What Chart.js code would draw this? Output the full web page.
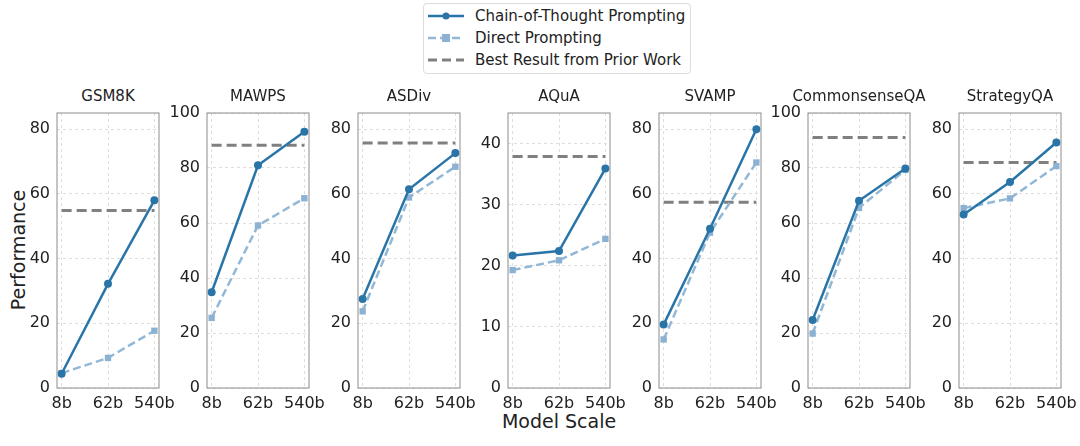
<!DOCTYPE html>
<html>
<head>
<meta charset="utf-8">
<script src="https://cdn.jsdelivr.net/npm/chart.js@4.4.1/dist/chart.umd.min.js"></script>
<style>
  body { margin: 0; background: #fff; font-family: "DejaVu Sans", sans-serif; color: #222; }
  #wrap { position: relative; width: 1080px; height: 446px; overflow: hidden; }
  .panel { position: absolute; }
  .title { position: absolute; width: 160px; text-align: center; font-size: 15px; line-height: 18px; }
  #legend { position: absolute; left: 423px; top: 3px; width: 266px; height: 69px;
    border: 1px solid #dcdcdc; border-radius: 4px; font-size: 15px; }
  .row { position: absolute; left: 4px; height: 20px; display: flex; align-items: center; }
  .row span { margin-left: 11px; }
  #ylab { position: absolute; left: 18px; top: 250px; font-size: 19px;
    transform: translate(-50%, -50%) rotate(-90deg); white-space: nowrap; }
  #xlab { position: absolute; left: 559px; top: 421px; font-size: 19px;
    transform: translate(-50%, -50%); white-space: nowrap; }
</style>
</head>
<body>
<div id="wrap">
  <div id="legend">
    <div class="row" style="top:2px">
      <svg width="36" height="10"><line x1="0" y1="5" x2="36" y2="5" stroke="#2a75a8" stroke-width="2.5"/><circle cx="18" cy="5" r="3.5" fill="#2a75a8"/></svg>
      <span>Chain-of-Thought Prompting</span>
    </div>
    <div class="row" style="top:24px">
      <svg width="36" height="10"><line x1="0" y1="5" x2="36" y2="5" stroke="#93b8d6" stroke-width="2.5" stroke-dasharray="8,4"/><rect x="14" y="1" width="8" height="8" fill="#8db1d2"/></svg>
      <span>Direct Prompting</span>
    </div>
    <div class="row" style="top:46px">
      <svg width="36" height="10"><line x1="0" y1="5" x2="36" y2="5" stroke="#808080" stroke-width="3" stroke-dasharray="9,5"/></svg>
      <span>Best Result from Prior Work</span>
    </div>
  </div>
  <div id="ylab">Performance</div>
  <div id="xlab">Model Scale</div>
</div>
<script>
// data
const modelScales = ['8b', '62b', '540b'];
const taskNames = ['GSM8K', 'MAWPS', 'ASDiv', 'AQuA', 'SVAMP', 'CommonsenseQA', 'StrategyQA'];
const cotScores = [
  [4.4, 32.2, 58.0],
  [34.8, 81.0, 93.2],
  [27.5, 61.4, 72.6],
  [21.7, 22.4, 35.9],
  [19.6, 49.2, 80.0],
  [24.7, 68.1, 79.8],
  [53.6, 63.7, 75.9]
];
const directScores = [
  [4.6, 9.3, 17.7],
  [25.5, 59.1, 69.0],
  [23.7, 58.9, 68.4],
  [19.3, 20.9, 24.4],
  [15.0, 48.0, 69.7],
  [19.8, 65.5, 79.3],
  [55.6, 58.6, 68.6]
];
const priorBest = [54.9, 88.3, 75.7, 37.9, 57.4, 91.1, 69.7];
const yMaxes = [85, 100, 85, 45, 85, 100, 85];
const ySteps = [20, 20, 20, 10, 20, 20, 20];

// layout of the panels
const plotLefts = [57, 207, 358, 508, 659, 808, 959];
const plotTop = 113;
const plotWidth = 102;
const axisW = 44;
const padTop = 24;
const plotH = 275;
const xAxisH = 30;
const padRight = 24;

const wrap = document.getElementById('wrap');

// box around each plot, like matplotlib spines
const frame = {
  id: 'frame',
  afterDatasetsDraw(chart) {
    const a = chart.chartArea;
    const c = chart.ctx;
    c.save();
    c.strokeStyle = '#8c8c8c';
    c.lineWidth = 1;
    c.strokeRect(a.left, a.top, a.right - a.left, a.bottom - a.top);
    c.restore();
  }
};

taskNames.forEach((name, i) => {
  const left = plotLefts[i];

  const t = document.createElement('div');
  t.className = 'title';
  t.textContent = name;
  t.style.left = (left + plotWidth / 2 - 80) + 'px';
  t.style.top = '87px';
  wrap.appendChild(t);

  const box = document.createElement('div');
  box.className = 'panel';
  const w = axisW + plotWidth + padRight;
  const h = padTop + plotH + xAxisH;
  box.style.left = (left - axisW) + 'px';
  box.style.top = (plotTop - padTop) + 'px';
  box.style.width = w + 'px';
  box.style.height = h + 'px';
  const cv = document.createElement('canvas');
  box.appendChild(cv);
  wrap.appendChild(box);

  const toPts = arr => arr.map((v, k) => ({ x: k, y: v }));

  new Chart(cv.getContext('2d'), {
    type: 'line',
    data: {
      datasets: [
        {
          label: 'Chain-of-Thought Prompting',
          data: toPts(cotScores[i]),
          borderColor: '#2a75a8',
          backgroundColor: '#2a75a8',
          borderWidth: 2.5,
          pointRadius: 4,
          pointStyle: 'circle',
          pointBorderWidth: 0
        },
        {
          label: 'Direct Prompting',
          data: toPts(directScores[i]),
          borderColor: '#93b8d6',
          backgroundColor: '#8db1d2',
          borderWidth: 2.5,
          borderDash: [8, 4],
          pointRadius: 4.5,
          pointStyle: 'rect',
          pointBorderWidth: 0
        },
        {
          label: 'Best Result from Prior Work',
          data: modelScales.map((s, k) => ({ x: k, y: priorBest[i] })),
          borderColor: '#808080',
          borderWidth: 3,
          borderDash: [10, 5],
          pointRadius: 0
        }
      ]
    },
    options: {
      responsive: true,
      maintainAspectRatio: false,
      animation: false,
      clip: false,
      layout: { padding: { top: padTop, right: padRight, left: 0, bottom: 0 } },
      plugins: { legend: { display: false }, tooltip: { enabled: false } },
      scales: {
        x: {
          type: 'linear',
          min: -0.1,
          max: modelScales.length - 0.9,
          afterBuildTicks: s => { s.ticks = modelScales.map((m, k) => ({ value: k })); },
          afterFit: s => { s.height = xAxisH; },
          ticks: {
            callback: v => modelScales[v],
            font: { family: 'DejaVu Sans', size: 16 },
            color: '#222',
            padding: 6,
            maxRotation: 0,
            autoSkip: false
          },
          grid: { color: '#d6d6d6', lineWidth: 0.8, drawTicks: false },
          border: { display: false, dash: [3, 3] }
        },
        y: {
          min: 0,
          max: yMaxes[i],
          afterBuildTicks: s => {
            const tk = [];
            for (let v = 0; v <= yMaxes[i]; v += ySteps[i]) tk.push({ value: v });
            s.ticks = tk;
          },
          afterFit: s => { s.width = axisW; },
          ticks: {
            stepSize: ySteps[i],
            font: { family: 'DejaVu Sans', size: 16 },
            color: '#222',
            padding: 7
          },
          grid: { color: '#d6d6d6', lineWidth: 0.8, drawTicks: false },
          border: { display: false, dash: [3, 3] }
        }
      }
    },
    plugins: [frame]
  });
});
</script>
</body>
</html>
